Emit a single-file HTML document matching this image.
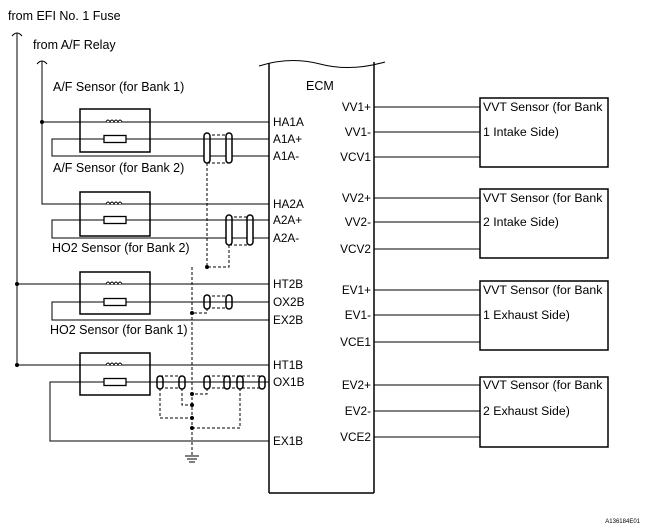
<!DOCTYPE html>
<html><head><meta charset="utf-8"><style>
html,body{margin:0;padding:0;background:#fff;}
svg{display:block;font-family:"Liberation Sans",Arial,sans-serif;}
</style></head><body>
<svg width="647" height="529" viewBox="0 0 647 529" xmlns="http://www.w3.org/2000/svg">
<g font-size="12.5" fill="#000">
<text x="8" y="20">from EFI No. 1 Fuse</text>
<text x="33" y="49">from A/F Relay</text>
<text x="53" y="91">A/F Sensor (for Bank 1)</text>
<text x="53" y="172">A/F Sensor (for Bank 2)</text>
<text x="52" y="252">HO2 Sensor (for Bank 2)</text>
<text x="50" y="334">HO2 Sensor (for Bank 1)</text>
<text x="306" y="90">ECM</text>
<g font-size="11.8">
<text x="273" y="126">HA1A</text><text x="273" y="143">A1A+</text><text x="273" y="160">A1A-</text>
<text x="273" y="208">HA2A</text><text x="273" y="224">A2A+</text><text x="273" y="242">A2A-</text>
<text x="273" y="288">HT2B</text><text x="273" y="306">OX2B</text><text x="273" y="324">EX2B</text>
<text x="273" y="369">HT1B</text><text x="273" y="386">OX1B</text><text x="273" y="445">EX1B</text>
</g>
<g font-size="11.8" text-anchor="end">
<text x="371" y="111">VV1+</text><text x="371" y="136">VV1-</text><text x="371" y="161">VCV1</text>
<text x="371" y="202">VV2+</text><text x="371" y="226">VV2-</text><text x="371" y="253">VCV2</text>
<text x="371" y="294">EV1+</text><text x="371" y="319">EV1-</text><text x="371" y="346">VCE1</text>
<text x="371" y="389">EV2+</text><text x="371" y="415">EV2-</text><text x="371" y="441">VCE2</text>
</g>
<g font-size="12.3">
<text x="483" y="111">VVT Sensor (for Bank</text><text x="483" y="136">1 Intake Side)</text>
<text x="483" y="202">VVT Sensor (for Bank</text><text x="483" y="226">2 Intake Side)</text>
<text x="483" y="294">VVT Sensor (for Bank</text><text x="483" y="319">1 Exhaust Side)</text>
<text x="483" y="389">VVT Sensor (for Bank</text><text x="483" y="415">2 Exhaust Side)</text>
</g>
<text x="640" y="523" font-size="6" text-anchor="end">A136184E01</text>
</g>
<g stroke="#000" fill="none" stroke-width="1">
<path d="M259 66 Q290 56 320 64 Q350 72 385 62" />
<line x1="269" y1="63" x2="269" y2="493" stroke-width="1.5"/>
<line x1="374" y1="62" x2="374" y2="493" stroke-width="1.5"/>
<line x1="269" y1="493" x2="374" y2="493" stroke-width="1.5"/>
<rect x="480" y="98" width="128" height="69" stroke-width="1.5"/>
<rect x="480" y="189" width="128" height="69" stroke-width="1.5"/>
<rect x="480" y="281" width="128" height="69" stroke-width="1.5"/>
<rect x="480" y="377" width="128" height="70" stroke-width="1.5"/>
<path d="M374 107H480M374 132H480M374 157H480M374 198H480M374 222H480M374 249H480M374 290H480M374 315H480M374 342H480M374 385H480M374 411H480M374 437H480"/>
<path d="M12 36 Q17 30 22 36 M17 33V365"/>
<path d="M37 64 Q42 58 47 64 M42 61V204H269"/>
<path d="M42 122H269M17 284H269M17 365H269"/>
<rect x="80" y="109" width="70" height="43" stroke-width="1.5"/>
<rect x="80" y="192" width="70" height="44" stroke-width="1.5"/>
<rect x="80" y="272" width="70" height="42" stroke-width="1.5"/>
<rect x="80" y="353" width="70" height="42" stroke-width="1.5"/>
<path d="M269 139H52V156H269"/>
<path d="M269 220H52V238H269"/>
<path d="M269 302H52V320H269"/>
<path d="M269 382H50V441H269"/>
</g>
<g stroke="#000" stroke-width="1.3" fill="#fff">
<rect x="104" y="135.5" width="22" height="7"/><rect x="104" y="216.5" width="22" height="7"/>
<rect x="104" y="298.5" width="22" height="7"/><rect x="104" y="378.5" width="22" height="7"/>
</g>
<g stroke="#000" stroke-width="1" fill="#fff">
<path d="M106 122 q2 -4 4 0 q2 -4 4 0 q2 -4 4 0 q2 -4 4 0"/>
<path d="M106 204 q2 -4 4 0 q2 -4 4 0 q2 -4 4 0 q2 -4 4 0"/>
<path d="M106 284 q2 -4 4 0 q2 -4 4 0 q2 -4 4 0 q2 -4 4 0"/>
<path d="M106 365 q2 -4 4 0 q2 -4 4 0 q2 -4 4 0 q2 -4 4 0"/>
</g>
<g stroke="#000" stroke-width="1" fill="none" stroke-dasharray="3,2">
<path d="M207 135H229M207 163H229M207 163V267H229V245"/>
<path d="M229 217H250M229 245H250"/>
<path d="M207 296H229M207 308H229M207 308V313H192"/>
<path d="M192 267V455"/>
<path d="M160 376H182M160 388H182M207 376H262M207 388H262"/>
<path d="M207 388V394H192M182 388V405H192M160 388V418H192M240 388V428H192"/>
</g>
<g stroke="#000" stroke-width="1.5" fill="#fff">
<rect x="204" y="133" width="6" height="30" rx="3"/><rect x="226" y="133" width="6" height="30" rx="3"/>
<rect x="226" y="215" width="6" height="30" rx="3"/><rect x="247" y="215" width="6" height="30" rx="3"/>
<rect x="204" y="295" width="6" height="14" rx="3"/><rect x="226" y="295" width="6" height="14" rx="3"/>
<rect x="157" y="376" width="6" height="13" rx="3"/><rect x="179" y="376" width="6" height="13" rx="3"/>
<rect x="204" y="376" width="6" height="13" rx="3"/><rect x="224" y="376" width="6" height="13" rx="3"/>
<rect x="237" y="376" width="6" height="13" rx="3"/><rect x="259" y="376" width="6" height="13" rx="3"/>
</g>
<path d="M150 139H269M150 220H269M150 302H269M150 382H269" stroke="#000" stroke-width="1" fill="none"/>
<g fill="#000">
<circle cx="42" cy="122" r="2"/><circle cx="17" cy="284" r="2"/><circle cx="17" cy="365" r="2"/>
<circle cx="207" cy="267" r="2"/><circle cx="192" cy="313" r="2"/>
<circle cx="192" cy="394" r="2"/><circle cx="192" cy="405" r="2"/><circle cx="192" cy="418" r="2"/><circle cx="192" cy="428" r="2"/>
</g>
<path d="M185 456H199M187 459H197M189 462H195" stroke="#000" stroke-width="1"/>
</svg>
</body></html>
